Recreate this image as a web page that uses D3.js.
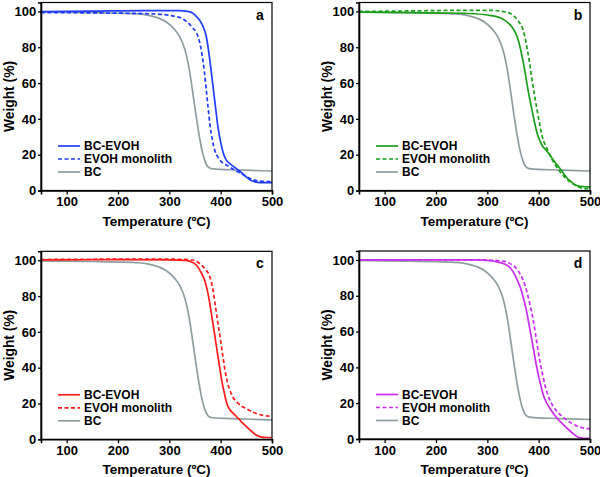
<!DOCTYPE html>
<html>
<head>
<meta charset="utf-8">
<script src="https://cdn.jsdelivr.net/npm/d3@7/dist/d3.min.js"></script>
<style>
  html, body { margin: 0; padding: 0; background: #fff; }
  svg text { font-family: "Liberation Sans", Arial, sans-serif; font-weight: bold; fill: #000; }
</style>
</head>
<body>
<svg id="chart" width="600" height="477"></svg>
<script>
// ---------- data ----------
const xTicks = [100, 200, 300, 400, 500];
const yTicks = [0, 20, 40, 60, 80, 100];
const seriesNames = ["BC-EVOH", "EVOH monolith", "BC"];
const panelLabels = ["a", "b", "c", "d"];

// BC reference (same in all panels)
const bcT = [50, 100, 150, 200, 240, 260, 280, 295, 310, 320, 330, 338, 345, 352, 358, 364, 370, 376, 382, 390, 420, 460, 500];
const bcW = [99.6, 99.5, 99.3, 99.0, 98.6, 97.8, 96.2, 94, 90, 86, 79, 69, 56, 42, 31, 22, 16, 13, 12.2, 11.9, 11.6, 11.2, 10.9];

// panel a
const aSolidT = [50, 150, 250, 320, 335, 345, 350, 358, 365, 372, 376, 381, 386, 391, 395, 400, 405, 411, 418, 428, 438, 448, 457, 467, 477, 500];
const aSolidW = [99.9, 100.2, 100.5, 100.5, 100, 99.2, 98, 95.5, 92, 86, 79, 68, 56, 44, 35, 27, 21, 17, 15, 12.8, 10.6, 8, 6, 4.8, 4.4, 4.4];
const aDashT = [50, 150, 250, 290, 310, 325, 335, 345, 353, 358, 363, 368, 372, 376, 379, 384, 389, 395, 400, 410, 418, 430, 440, 452, 464, 478, 490, 500];
const aDashW = [99.4, 99.2, 98.8, 98.2, 97.3, 96, 94, 91, 88, 84, 77, 67, 56, 45, 37, 28, 22, 18.5, 16.5, 14.5, 13, 11, 9.5, 7.5, 6, 5.2, 5, 5];

// panel b
const bSolidT = [50, 150, 250, 300, 325, 341, 350, 358, 363, 368, 373, 377, 382, 387, 392, 397, 402, 407, 413, 420, 430, 443, 455, 462, 470, 478, 490, 500];
const bSolidW = [99.6, 99.3, 99, 98, 96.5, 93.5, 90.5, 86, 81, 74.5, 67, 60, 52, 45, 38, 32, 28, 25, 23, 20.5, 16.5, 11.7, 7, 5.2, 3.3, 2.4, 2.1, 2];
const bDashT = [50, 150, 250, 310, 330, 345, 355, 362, 368, 373, 377, 382, 387, 392, 397, 402, 407, 412, 417, 423, 430, 440, 449, 458, 469, 482, 490, 500];
const bDashW = [100, 100.3, 100.6, 100.6, 100, 98.8, 96.5, 94, 91, 86, 80, 72, 62, 53, 45, 37, 30, 26, 23, 19, 15.4, 11, 8, 5.5, 3.3, 1.5, 1.1, 1];

// panel c
const cSolidT = [50, 200, 300, 330, 340, 353, 363, 368, 372.5, 377, 382, 387, 392, 397, 402, 407, 412, 418, 425, 435, 443, 451, 460, 470, 480, 490, 500];
const cSolidW = [100.2, 100.3, 100.2, 99.9, 99.4, 97.2, 92.6, 89.5, 85, 79, 70, 61, 51.6, 42, 33, 26, 20, 16.5, 14.3, 11.5, 9, 6.9, 4.5, 2.2, 1.2, 1, 1];
const cDashT = [50, 200, 300, 340, 353, 366, 373, 379, 384, 389, 394, 399, 404, 408.5, 413, 418, 424, 431, 440, 451, 460, 470.5, 480, 490, 500];
const cDashW = [100.4, 100.6, 100.6, 100.3, 99.3, 96.3, 94, 90.7, 85, 75.8, 66, 57, 47, 38.5, 32, 27.4, 23.5, 20.9, 18.7, 17, 15.5, 14.3, 13.5, 13, 12.9];

// panel d
const dSolidT = [50, 200, 280, 299, 325, 341, 350, 358, 365, 371, 376, 380.6, 385, 390, 395, 400, 405, 410, 415, 420, 428, 436, 446, 455.6, 465, 475, 482, 490, 500];
const dSolidW = [100, 100, 100, 99.8, 98.5, 96.6, 93.5, 89, 84, 78, 72, 65, 58, 50, 42, 35, 29, 23.7, 20.5, 18, 14.5, 11.6, 8.6, 6, 3.5, 1.3, 0.6, 0.4, 0.3];
const dDashT = [50, 200, 300, 320, 338, 348, 358, 366, 374, 379, 384, 389, 393.6, 398, 403, 408, 413, 418, 423, 430, 439, 449, 459, 469, 478, 485, 491.5, 500];
const dDashW = [100.1, 100.1, 100, 99.6, 98.9, 97.3, 94.8, 91, 85.4, 80, 74, 67, 59, 51, 42.4, 35.5, 29.3, 24.6, 21, 17.5, 14.4, 11.8, 9.7, 8, 6.9, 6.3, 6, 5.6];

const panelColors = ["#1f3cff", "#1a9e1a", "#ff1a1a", "#c92cf0"];
const bcColor = "#8e9ea0";

// ---------- build ----------
const zip = (T, W) => T.map((t, i) => ({ t: t, w: W[i] }));
const panels = [
  { label: panelLabels[0], color: panelColors[0], solid: zip(aSolidT, aSolidW), dash: zip(aDashT, aDashW), ox: 41, oy: 2.5 },
  { label: panelLabels[1], color: panelColors[1], solid: zip(bSolidT, bSolidW), dash: zip(bDashT, bDashW), ox: 359, oy: 2.5 },
  { label: panelLabels[2], color: panelColors[2], solid: zip(cSolidT, cSolidW), dash: zip(cDashT, cDashW), ox: 41, oy: 251.3 },
  { label: panelLabels[3], color: panelColors[3], solid: zip(dSolidT, dSolidW), dash: zip(dDashT, dDashW), ox: 359, oy: 251 }
];
const bc = zip(bcT, bcW);

const W = 231, H = 188;
const x = d3.scaleLinear().domain([50, 500]).range([0, W]);
const y = d3.scaleLinear().domain([0, 105]).range([H, 0]);
const line = d3.line().x(d => x(d.t)).y(d => y(d.w)).curve(d3.curveMonotoneX);

const svg = d3.select("#chart");

panels.forEach(p => {
  const g = svg.append("g").attr("transform", `translate(${p.ox},${p.oy})`);

  // curves
  g.append("path").datum(bc).attr("d", line)
    .attr("fill", "none").attr("stroke", bcColor).attr("stroke-width", 1.7);
  g.append("path").datum(p.dash).attr("d", line)
    .attr("fill", "none").attr("stroke", p.color).attr("stroke-width", 1.7)
    .attr("stroke-dasharray", "4,2.5");
  g.append("path").datum(p.solid).attr("d", line)
    .attr("fill", "none").attr("stroke", p.color).attr("stroke-width", 1.7);

  // frame
  g.append("rect").attr("x", 0).attr("y", 0).attr("width", W).attr("height", H)
    .attr("fill", "none").attr("stroke", "#000").attr("stroke-width", 1.2);

  // axes
  const xa = g.append("g").attr("transform", `translate(0,${H})`)
    .call(d3.axisBottom(x).tickValues(xTicks).tickSize(4).tickPadding(2.5));
  const ya = g.append("g")
    .call(d3.axisLeft(y).tickValues(yTicks).tickSize(3).tickPadding(1.8));
  [xa, ya].forEach(a => {
    a.select(".domain").attr("stroke", "#000").attr("stroke-width", 1.6);
    a.selectAll(".tick line").attr("stroke", "#000").attr("stroke-width", 1.3);
    a.selectAll(".tick text").style("font-size", "13px").style("font-weight", "bold")
      .style("font-family", "'Liberation Sans', Arial, sans-serif").attr("fill", "#000");
  });

  // axis titles
  g.append("text").attr("x", W / 2).attr("y", H + 35).attr("text-anchor", "middle")
    .style("font-size", "13.5px").text("Temperature (ºC)");
  g.append("text").attr("transform", `translate(-27.5,${H / 2}) rotate(-90)`)
    .attr("text-anchor", "middle").style("font-size", "13.8px").text("Weight (%)");

  // panel label
  g.append("text").attr("x", 219).attr("y", 17).attr("text-anchor", "middle")
    .style("font-size", "14px").text(p.label);

  // legend
  const legendStyles = [
    { color: p.color, dash: null },
    { color: p.color, dash: "4,2.5" },
    { color: bcColor, dash: null }
  ];
  seriesNames.forEach((name, i) => {
    const ly = 143.5 + i * 13;
    g.append("line").attr("x1", 17).attr("x2", 39).attr("y1", ly).attr("y2", ly)
      .attr("stroke", legendStyles[i].color).attr("stroke-width", 1.7)
      .attr("stroke-dasharray", legendStyles[i].dash);
    g.append("text").attr("x", 43).attr("y", ly + 4.3).style("font-size", "12px").text(name);
  });
});
</script>
</body>
</html>
